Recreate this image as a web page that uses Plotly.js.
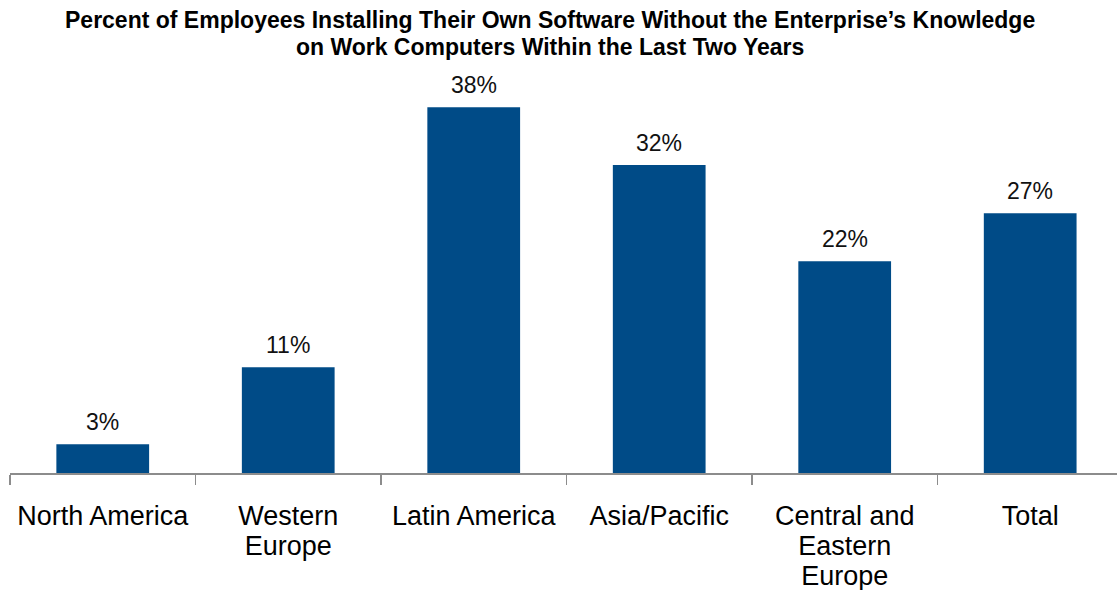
<!DOCTYPE html>
<html>
<head>
<meta charset="utf-8">
<script src="https://cdn.plot.ly/plotly-3.0.1.min.js"></script>
<style>html,body{margin:0;padding:0;background:#fff;overflow:hidden}#chart{width:1117px;height:590px}</style>
</head>
<body>
<div id="chart"></div>
<script>
const categories = ["North America", "Western<br>Europe", "Latin America", "Asia/Pacific", "Central and<br>Eastern<br>Europe", "Total"];
const values = [3, 11, 38, 32, 22, 27];
const valueLabels = ["3%", "11%", "38%", "32%", "22%", "27%"];
const chartTitle = "<b>Percent of Employees Installing Their Own Software Without the Enterprise’s Knowledge<br>on Work Computers Within the Last Two Years</b>";

const FONT = "Liberation Sans, Arial, sans-serif";

const trace = {
  type: "bar",
  x: categories,
  y: values,
  marker: {color: "#004B87", line: {width: 0}},
  width: 0.5,
  hoverinfo: "none"
};

const valueAnnotations = categories.map((c, i) => ({
  x: c, y: values[i], xref: "x", yref: "y",
  text: valueLabels[i],
  showarrow: false,
  yanchor: "bottom",
  yshift: 7,
  font: {family: FONT, size: 23, color: "#111"}
}));

const titleAnnotation = {
  text: chartTitle,
  xref: "paper", yref: "paper",
  x: 0.4878, y: 1.215,
  xanchor: "center", yanchor: "top",
  align: "center",
  showarrow: false,
  font: {family: FONT, size: 23, color: "#000"}
};

const layout = {
  width: 1117,
  height: 590,
  margin: {l: 10, r: 0, t: 87.5, b: 116.5},
  paper_bgcolor: "#fff",
  plot_bgcolor: "#fff",
  showlegend: false,
  xaxis: {
    type: "category",
    range: [-0.5, 5.468],
    tickson: "boundaries",
    ticks: "outside",
    ticklen: 10,
    tickwidth: 1.5,
    tickcolor: "#8c8c8c",
    showline: true,
    linecolor: "#8c8c8c",
    linewidth: 1.5,
    showgrid: false,
    zeroline: false,
    ticklabelstandoff: 18,
    tickfont: {family: FONT, size: 27, color: "#000"},
    fixedrange: true
  },
  yaxis: {
    range: [0, 40],
    visible: false,
    showgrid: false,
    zeroline: false,
    fixedrange: true
  },
  annotations: [titleAnnotation].concat(valueAnnotations)
};

function tightenLines(selector, factor) {
  document.querySelectorAll(selector).forEach(t => {
    const dy = parseFloat(t.getAttribute("dy"));
    if (!isNaN(dy) && dy !== 0) t.setAttribute("dy", (dy * factor) + "em");
  });
}

Plotly.newPlot("chart", [trace], layout, {displayModeBar: false, staticPlot: true}).then(() => {
  tightenLines(".xtick text tspan.line", 1.11 / 1.3);
  tightenLines(".annotation text tspan.line", 1.17 / 1.3);
});
</script>
</body>
</html>
